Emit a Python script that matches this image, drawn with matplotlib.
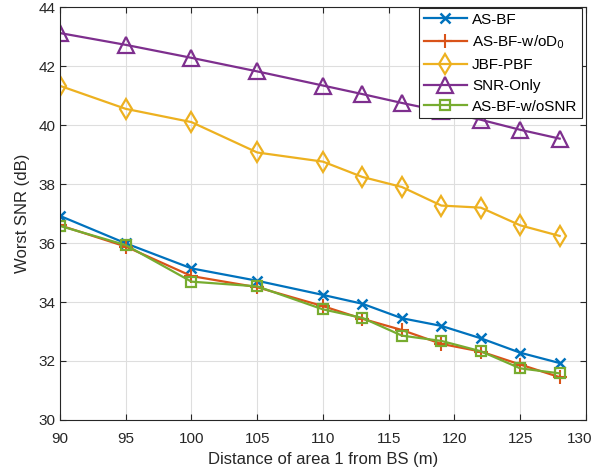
import matplotlib
matplotlib.use("Agg")
import matplotlib.pyplot as plt
from matplotlib.transforms import ScaledTranslation

plt.rcParams['font.family'] = ['Liberation Sans', 'DejaVu Sans']

# distance of area 1 from BS (m)
dist = [90, 95, 100, 105, 110, 113, 116, 119, 122, 125, 128]

as_bf = [36.92, 35.99, 35.14, 34.72, 34.24, 33.94, 33.45, 33.19, 32.77, 32.28, 31.93]
as_bf_wod0 = [36.6, 35.88, 34.88, 34.5, 33.86, 33.43, 33.05, 32.58, 32.32, 31.88, 31.45]
jbf_pbf = [41.33, 40.55, 40.1, 39.07, 38.76, 38.24, 37.9, 37.27, 37.2, 36.6, 36.24]
snr_only = [43.12, 42.72, 42.28, 41.82, 41.34, 41.05, 40.75, 40.47, 40.18, 39.84, 39.54]
as_bf_wosnr = [36.58, 35.93, 34.69, 34.53, 33.75, 33.46, 32.86, 32.68, 32.33, 31.75, 31.58]

fig = plt.figure(figsize=(5.94, 4.74), dpi=100)
ax = fig.add_axes([0.101, 0.114, 0.8855, 0.871])

lw = 1.6
ax.plot(dist, as_bf, color='#0072BD', marker='x', lw=lw, ms=7, mew=1.8, label='AS-BF')
ax.plot(dist, as_bf_wod0, color='#D95319', marker='+', lw=lw, ms=10, mew=1.5, label='AS-BF-w/oD$_0$')
ax.plot(dist, jbf_pbf, color='#EDB120', marker='d', lw=lw, ms=10, mew=1.6, mfc='none', label='JBF-PBF')
ax.plot(dist, snr_only, color='#7E2F8E', marker='^', lw=lw, ms=11, mew=1.6, mfc='none', label='SNR-Only')
ax.plot(dist, as_bf_wosnr, color='#77AC30', marker='s', lw=lw, ms=7.5, mew=1.6, mfc='none', label='AS-BF-w/oSNR')

ax.set_xlim(90, 130)
ax.set_ylim(30, 44)
ax.set_xticks(range(90, 131, 5))
ax.set_yticks(range(30, 45, 2))
ax.grid(True, color='#dedede', lw=0.8)
ax.set_axisbelow(True)
ax.tick_params(direction='in', top=True, right=True, labelsize=11, colors='#262626', length=4)
ax.tick_params(axis='x', pad=9)
for s in ax.spines.values():
    s.set_color('#262626')
    s.set_linewidth(0.8)

# keep the last x tick label inside the figure
last = ax.get_xticklabels()[-1]
last.set_transform(last.get_transform() + ScaledTranslation(-6 / 100, 0, fig.dpi_scale_trans))

ax.set_xlabel('Distance of area 1 from BS (m)', fontsize=12, color='#262626', labelpad=4)
ax.set_ylabel('Worst SNR (dB)', fontsize=12, color='#262626', labelpad=6)

leg = ax.legend(loc='upper right', bbox_to_anchor=(582 / 594, 1 - 8 / 474),
                bbox_transform=fig.transFigure, fontsize=11, handlelength=2.8,
                borderpad=0.3, labelspacing=0.45, handletextpad=0.35, fancybox=False,
                framealpha=1, borderaxespad=0)
leg.get_frame().set_edgecolor('#262626')
leg.get_frame().set_linewidth(0.8)

fig.savefig('out.png', dpi=100)
